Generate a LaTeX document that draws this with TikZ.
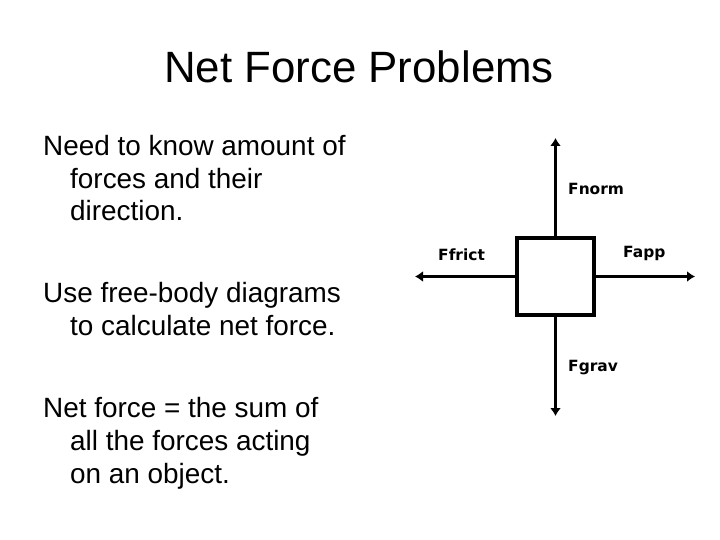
\documentclass[tikz,border=0pt]{standalone}
\usepackage{fontspec}
\setmainfont{Liberation Sans}
\newfontfamily\labelfont{DejaVu Sans}
\usepackage{xcolor}
\usepackage{tikz}
\usetikzlibrary{calc}
\usetikzlibrary{arrows.meta}

\begin{document}
\begin{tikzpicture}[x=1bp, y=-1bp,
		force/.style = {line width=3.5bp, -{Latex[length=8bp,width=11bp]}},
		bodybox/.style = {draw, line width=3.5bp, minimum size=77bp, inner sep=0pt},
		lbl/.style = {anchor=west, inner sep=0pt, font=\labelfont\bfseries\fontsize{15.5}{15.5}\selectfont},
		txt/.style = {anchor=base west, inner sep=0pt, align=left, font=\fontsize{28}{33}\selectfont}]
		\useasboundingbox (0,0) rectangle (720,540);
		
		\node[anchor=base, inner sep=0pt, font=\fontsize{44}{44}\selectfont] (title) at (359,83) {Net Force Problems};
		
		% base of a node of several lines = its last line
		\begin{scope}
			\node[txt] (amount) at (43,221) {Need to know amount of\\\hspace*{27bp}forces and their\\\hspace*{27bp}direction.};
			\node[txt] (fbd) at (43,335) {Use free-body diagrams\\\hspace*{27bp}to calculate net force.};
			\node[txt] (netf) at (43,483) {Net force = the sum of\\\hspace*{27bp}all the forces acting\\\hspace*{27bp}on an object.};
		\end{scope}
		
		\begin{scope}
			\node[bodybox] (body) at (555.5,276.5) {};
			\path[shape=coordinate]
			(555.5,138) coordinate(normtip)
			(555.5,416) coordinate(gravtip)
			(415,276.5) coordinate(fricttip)
			(695,276.5) coordinate(apptip);
			
			\draw[force] (body.north) -- (normtip);
			\draw[force] (body.south) -- (gravtip);
			\draw[force] (body.west) -- (fricttip);
			\draw[force] (body.east) -- (apptip);
			
			\node[lbl] (fnorm) at (568,189) {Fnorm};
			\node[lbl] (ffrict) at (438,255) {Ffrict};
			\node[lbl] (fapp) at (623,253) {Fapp};
			\node[lbl] (fgrav) at (568,368) {Fgrav};
		\end{scope}
	\end{tikzpicture}
\end{document}
